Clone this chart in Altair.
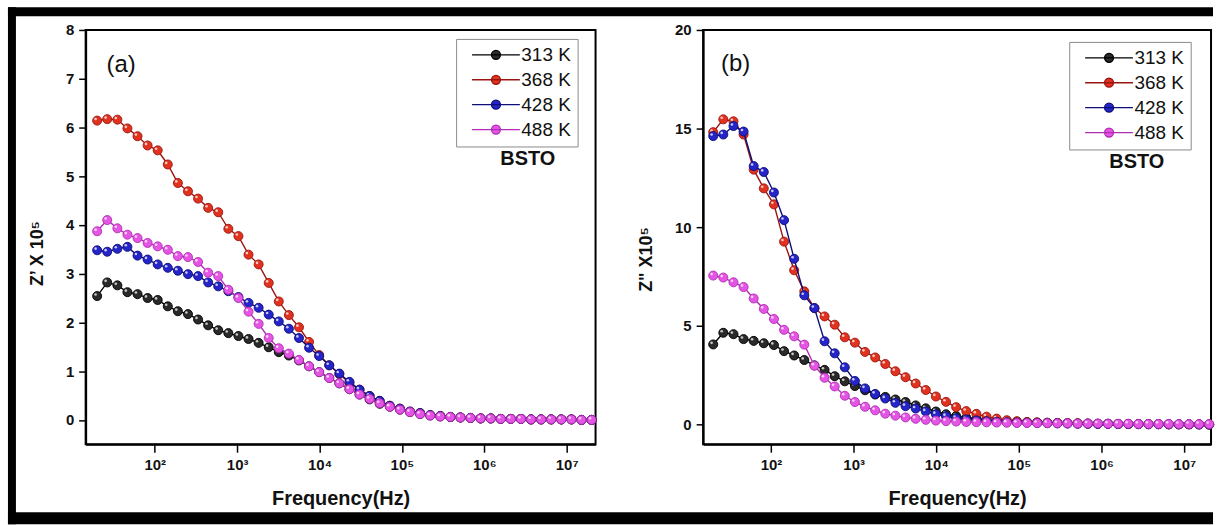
import altair as alt
import pandas as pd

temps = ["313 K", "368 K", "428 K", "488 K"]

freq = [20, 26.5, 35.2, 46.6, 61.8, 81.9, 108.6, 144.0, 190.9, 253.1,
        335.6, 445.0, 590.0, 782.2, 1037, 1375, 1823, 2417, 3204, 4248,
        5632, 7467, 9900, 13125, 17401, 23071, 30587, 40553, 53765, 71281,
        94504, 125293, 166113, 220233, 291985, 387114, 513235, 680447, 902137, 1196054,
        1585729, 2102359, 2787307, 3695403, 4899343, 6495546, 8611795, 11417518, 15137344, 20069000]

# Panel (a): Z' x 10^5
za_313 = [2.54, 2.82, 2.76, 2.62, 2.58, 2.50, 2.46, 2.33, 2.23, 2.17,
          2.06, 1.94, 1.84, 1.78, 1.72, 1.66, 1.58, 1.49, 1.39, 1.32,
          1.22, 1.10, 0.98, 0.86, 0.75, 0.63, 0.52, 0.42, 0.33, 0.27,
          0.21, 0.16, 0.12, 0.09, 0.07, 0.06, 0.05, 0.04, 0.03, 0.03,
          0.02, 0.02, 0.02, 0.01, 0.01, 0.01, 0.01, 0.01, 0.0, 0.0]
za_368 = [6.14, 6.17, 6.16, 5.98, 5.82, 5.63, 5.53, 5.24, 4.86, 4.69,
          4.54, 4.35, 4.26, 3.92, 3.77, 3.39, 3.19, 2.81, 2.43, 2.15,
          1.90, 1.60, 1.33, 1.12, 0.94, 0.76, 0.62, 0.49, 0.39, 0.29,
          0.23, 0.17, 0.14, 0.10, 0.08, 0.06, 0.05, 0.04, 0.03, 0.03,
          0.02, 0.02, 0.02, 0.01, 0.01, 0.01, 0.01, 0.01, 0.0, 0.0]
za_428 = [3.48, 3.45, 3.51, 3.55, 3.37, 3.29, 3.19, 3.12, 3.06, 2.99,
          2.95, 2.82, 2.74, 2.64, 2.52, 2.40, 2.30, 2.16, 2.02, 1.87,
          1.68, 1.48, 1.31, 1.12, 0.95, 0.78, 0.62, 0.49, 0.39, 0.29,
          0.23, 0.17, 0.14, 0.10, 0.08, 0.06, 0.05, 0.04, 0.03, 0.03,
          0.02, 0.02, 0.02, 0.01, 0.01, 0.01, 0.01, 0.01, 0.0, 0.0]
za_488 = [3.87, 4.10, 3.93, 3.80, 3.73, 3.63, 3.56, 3.49, 3.36, 3.34,
          3.24, 3.02, 2.95, 2.67, 2.50, 2.22, 1.97, 1.68, 1.47, 1.36,
          1.23, 1.10, 0.98, 0.86, 0.75, 0.63, 0.52, 0.43, 0.34, 0.27,
          0.21, 0.16, 0.12, 0.09, 0.07, 0.06, 0.05, 0.04, 0.03, 0.03,
          0.02, 0.02, 0.02, 0.01, 0.01, 0.01, 0.01, 0.01, 0.0, 0.0]

# Panel (b): Z'' x 10^5
zb_313 = [4.06, 4.65, 4.58, 4.33, 4.24, 4.12, 4.03, 3.72, 3.50, 3.27,
          3.00, 2.77, 2.45, 2.19, 1.95, 1.74, 1.52, 1.40, 1.27, 1.14,
          0.97, 0.82, 0.66, 0.52, 0.43, 0.35, 0.29, 0.24, 0.20, 0.17,
          0.14, 0.12, 0.10, 0.09, 0.08, 0.07, 0.06, 0.05, 0.04, 0.04,
          0.03, 0.03, 0.02, 0.02, 0.02, 0.01, 0.01, 0.01, 0.01, 0.0]
zb_368 = [14.82, 15.47, 15.37, 14.70, 12.92, 11.97, 11.16, 9.27, 7.82, 6.75,
          5.90, 5.48, 5.06, 4.42, 4.15, 3.68, 3.40, 3.07, 2.70, 2.40,
          2.08, 1.75, 1.42, 1.15, 0.88, 0.68, 0.54, 0.40, 0.30, 0.22,
          0.17, 0.13, 0.11, 0.09, 0.08, 0.07, 0.06, 0.05, 0.04, 0.04,
          0.03, 0.03, 0.02, 0.02, 0.02, 0.01, 0.01, 0.01, 0.01, 0.0]
zb_428 = [14.62, 14.70, 15.13, 14.85, 13.10, 12.80, 11.76, 10.36, 8.40, 6.55,
          5.90, 4.22, 3.61, 2.90, 2.21, 1.83, 1.55, 1.32, 1.10, 0.93,
          0.81, 0.66, 0.52, 0.42, 0.32, 0.26, 0.21, 0.17, 0.14, 0.12,
          0.10, 0.09, 0.08, 0.07, 0.06, 0.05, 0.04, 0.04, 0.03, 0.03,
          0.02, 0.02, 0.02, 0.01, 0.01, 0.01, 0.01, 0.01, 0.0, 0.0]
zb_488 = [7.55, 7.45, 7.21, 6.97, 6.39, 5.86, 5.35, 4.80, 4.47, 4.05,
          2.98, 2.37, 1.93, 1.46, 1.14, 0.90, 0.72, 0.55, 0.45, 0.36,
          0.29, 0.24, 0.20, 0.17, 0.15, 0.13, 0.12, 0.11, 0.10, 0.09,
          0.08, 0.08, 0.07, 0.07, 0.06, 0.06, 0.05, 0.05, 0.05, 0.04,
          0.04, 0.04, 0.03, 0.03, 0.03, 0.03, 0.02, 0.02, 0.02, 0.02]

xticks = [1e2, 1e3, 1e4, 1e5, 1e6, 1e7]

fill_colors = ["#2a2a2a", "#e0321f", "#2424c8", "#e455e4"]
stroke_colors = ["#000000", "#9a1510", "#0e0e78", "#b02db4"]

FONT = "Liberation Sans"
LEG_SYMBOL = "M0,0L16,0M9.5,0A1.5,1.5,0,1,1,6.5,0A1.5,1.5,0,1,1,9.5,0Z"


def long_df(series):
    rows = []
    for t, vals in zip(temps, series):
        for f, v in zip(freq, vals):
            rows.append({"f": f, "z": v, "T": t})
    return pd.DataFrame(rows)


def one(txt):
    return pd.DataFrame({"t": [txt]})


def panel(series, ydom, yticks, ytitle, xdom, w, h, leg_x, leg_y, tag, tag_xy,
          bsto_xy, ytitle_xy, borders=False):
    df = long_df(series)
    x = alt.X("f:Q",
              scale=alt.Scale(type="log", domain=xdom, nice=False),
              axis=alt.Axis(values=xticks, title="Frequency(Hz)",
                            labelExpr="['','','10²','10³','10⁴','10⁵','10⁶','10⁷'][round(log(datum.value)/LN10)]",
                            tickSize=8, labelPadding=5, labelFontSize=15, titleFontSize=20,
                            titleY=54, titleBaseline="middle"))
    y = alt.Y("z:Q",
              scale=alt.Scale(domain=ydom, nice=False, zero=False),
              axis=alt.Axis(values=yticks, title=ytitle, tickSize=7, labelPadding=5,
                            labelFontSize=15,
                            titleFontSize=18, titleX=ytitle_xy[0], titleY=ytitle_xy[1],
                            titleBaseline="middle", titleAlign="center", titleAngle=270))
    leg = alt.Legend(title=None, orient="none", legendX=leg_x, legendY=leg_y,
                     symbolType=LEG_SYMBOL, symbolSize=36, symbolStrokeWidth=1.3,
                     labelFont=FONT, labelFontSize=19, labelColor="#111",
                     labelOffset=40, padding=6.5, rowPadding=5,
                     strokeColor="#8a8a8a", fillColor="white")
    fill_scale = alt.Scale(domain=temps, range=fill_colors)
    stroke_scale = alt.Scale(domain=temps, range=stroke_colors)
    layers = []
    base = alt.Chart(df)
    for t in temps:
        sub = base.transform_filter(alt.datum.T == t)
        layers.append(sub.mark_line(strokeWidth=1.4).encode(
            x=x, y=y, stroke=alt.Stroke("T:N", scale=stroke_scale, legend=leg)))
        layers.append(sub.mark_point(filled=True, shape="circle", size=82, opacity=1,
                                     strokeWidth=0.9).encode(
            x=x, y=y,
            fill=alt.Fill("T:N", scale=fill_scale, legend=leg),
            stroke=alt.Stroke("T:N", scale=stroke_scale, legend=leg)))
        layers.append(sub.mark_point(filled=True, shape="circle", size=7, opacity=0.75,
                                     color="white", xOffset=-1.6, yOffset=-1.6).encode(
            x=x, y=y))
    tag_t = alt.Chart(one(tag)).mark_text(font=FONT, fontSize=24, align="center",
                                          baseline="middle", color="#111").encode(
        text="t:N", x=alt.value(tag_xy[0]), y=alt.value(tag_xy[1]))
    bsto = alt.Chart(one("BSTO")).mark_text(font=FONT, fontSize=20, fontWeight="bold",
                                            align="center", baseline="middle",
                                            color="#111").encode(
        text="t:N", x=alt.value(bsto_xy[0]), y=alt.value(bsto_xy[1]))
    layers += [tag_t, bsto]
    if borders:
        b = alt.Chart(one("b")).mark_rect(color="black")
        layers += [
            b.encode(x=alt.value(-78), x2=alt.value(-70), y=alt.value(-22.7), y2=alt.value(496.3)),
            b.encode(x=alt.value(-78), x2=alt.value(1132), y=alt.value(-22.7), y2=alt.value(-13.7)),
            b.encode(x=alt.value(-78), x2=alt.value(1132), y=alt.value(484.3), y2=alt.value(496.3)),
        ]
    return alt.layer(*layers).properties(width=w, height=h)


pa = panel([za_313, za_368, za_428, za_488], [-0.5, 8], list(range(0, 9)), "Z’ X 10⁵",
           [14.5, 2.24e7], 512, 416, 372, 9, "(a)", (35.6, 35.3), (444, 129.3),
           (-48, 224), borders=True)
pb = panel([zb_313, zb_368, zb_428, zb_488], [-1, 20], [0, 5, 10, 15, 20], "Z\" X10⁵",
           [15.1, 2.11e7], 510, 416, 367.6, 12, "(b)", (32.7, 34.3), (435.5, 132.3),
           (-57, 230))

chart = alt.hconcat(pa, pb, spacing=108, bounds="flush").resolve_scale(
    fill="independent", stroke="independent"
).resolve_legend(
    fill="independent", stroke="independent"
).properties(
    padding={"left": 7, "top": 5, "right": 0, "bottom": 0},
    background="white",
).configure_view(stroke="black", strokeWidth=2).configure_axis(
    grid=False, domainColor="black", domainWidth=2, tickColor="black", tickWidth=1.5,
    labelFont=FONT, labelFontWeight="bold", labelColor="#111",
    titleFont=FONT, titleFontWeight="bold", titleColor="#111",
)

chart.save("out.html", embed_options={"renderer": "svg", "actions": False})
